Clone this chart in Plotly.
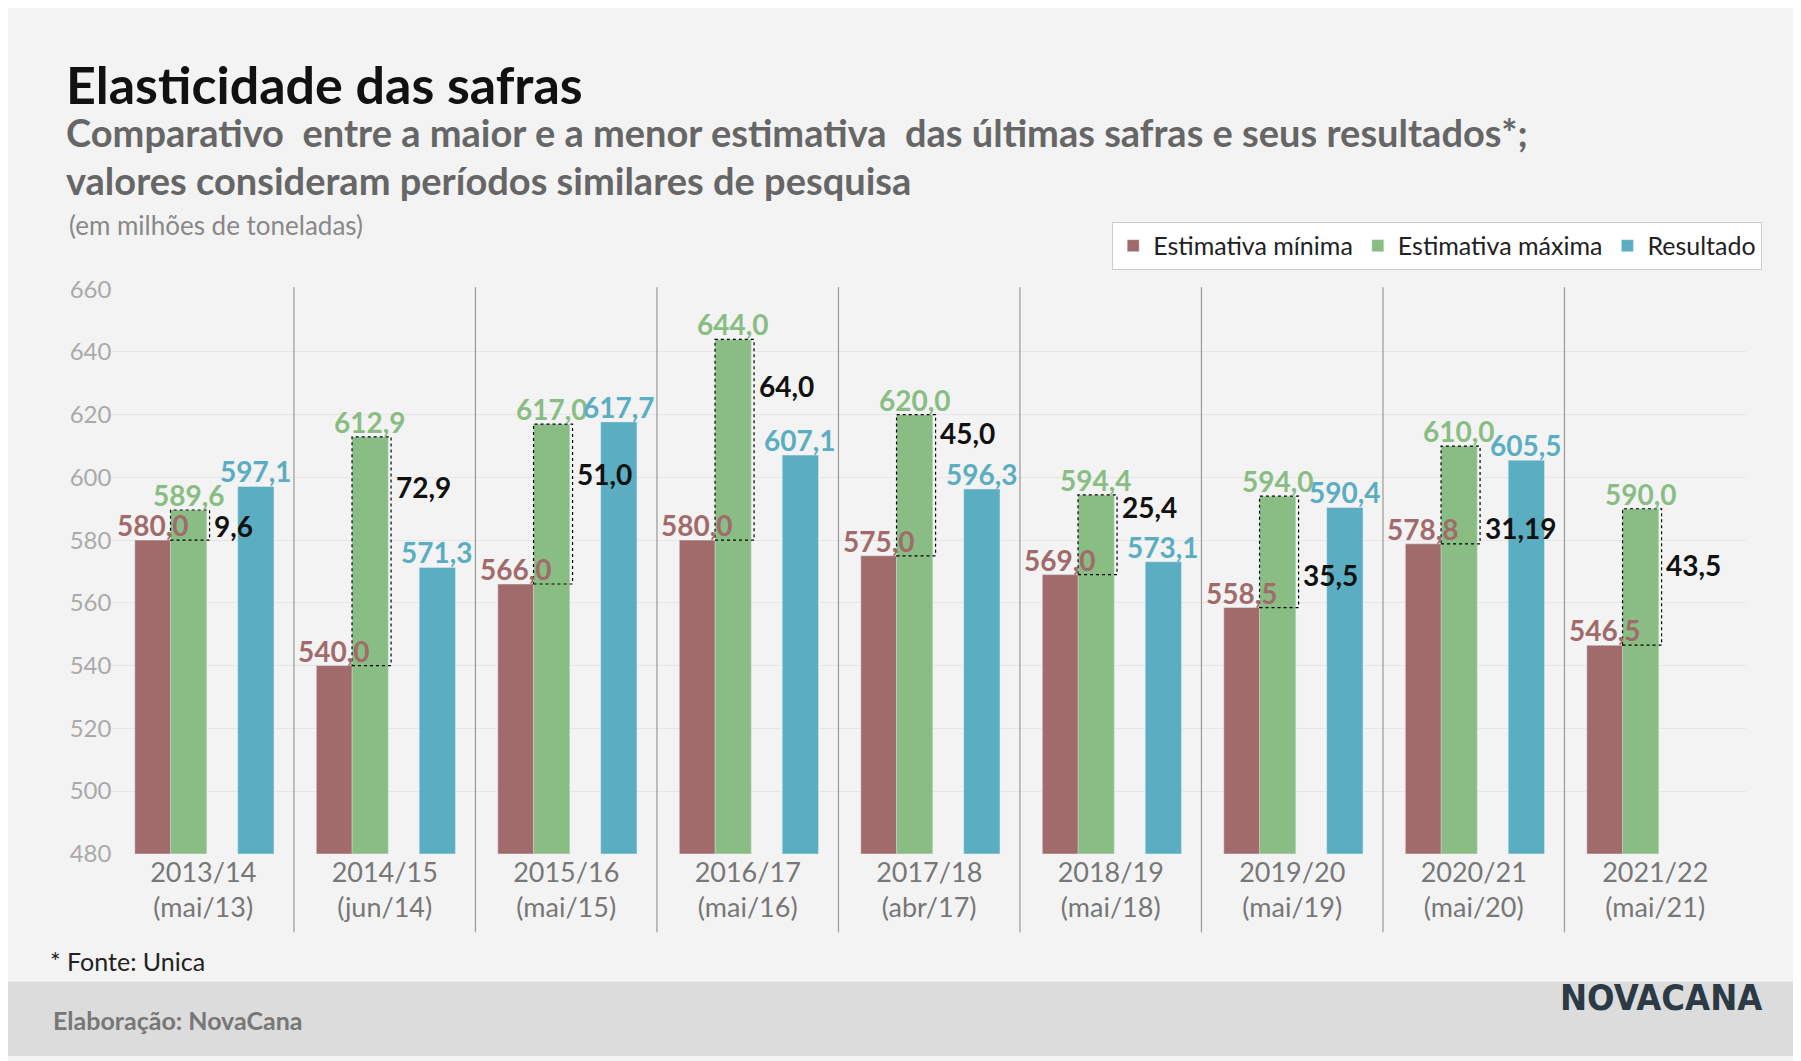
import plotly.graph_objects as go

cats = ["2013/14<br>(mai/13)","2014/15<br>(jun/14)","2015/16<br>(mai/15)","2016/17<br>(mai/16)","2017/18<br>(abr/17)","2018/19<br>(mai/18)","2019/20<br>(mai/19)","2020/21<br>(mai/20)","2021/22<br>(mai/21)"]
est_min = [580.0,540.0,566.0,580.0,575.0,569.0,558.5,578.8,546.5]
est_max = [589.6,612.9,617.0,644.0,620.0,594.4,594.0,610.0,590.0]
result = [597.1,571.3,617.7,607.1,596.3,573.1,590.4,605.5,None]
diff_lbl = ["9,6","72,9","51,0","64,0","45,0","25,4","35,5","31,19","43,5"]
diff_y = [584.5,597.0,601.0,629.0,614.0,590.5,569.0,584.0,572.0]

RED, GREEN, BLUE = "#a06b6a", "#89bd84", "#5badc1"
fmt = lambda v: f"{v:.1f}".replace(".", ",")
n = len(cats)
xs = list(range(n))
W = 0.2
OFF = {"min": -0.277, "max": -0.08, "res": 0.29}
fig = go.Figure()
fig.add_bar(x=[i+OFF["min"] for i in xs], y=est_min, width=W, marker_color=RED, name="Estimativa mínima")
fig.add_bar(x=[i+OFF["max"] for i in xs], y=est_max, width=W, marker_color=GREEN, name="Estimativa máxima")
bx = [i+OFF["res"] for i, r in zip(xs, result) if r is not None]
by = [r for r in result if r is not None]
fig.add_bar(x=bx, y=by, width=W, marker_color=BLUE, name="Resultado")

def lbl(x, y, t, color):
    fig.add_annotation(x=x, y=y, text=f"<b>{t}</b>", showarrow=False, yanchor="bottom", yshift=-4,
                       font=dict(family="Lato", size=28, color=color))

for i in xs:
    lbl(i+OFF["min"], est_min[i], fmt(est_min[i]), RED)
    lbl(i+OFF["max"], est_max[i], fmt(est_max[i]), GREEN)
    if result[i] is not None:
        lbl(i+OFF["res"], result[i], fmt(result[i]), BLUE)
    fig.add_shape(type="rect", x0=i-0.18, x1=i+0.035, y0=est_min[i], y1=est_max[i],
                  line=dict(color="black", width=1.2, dash="dot"), layer="above")
    fig.add_annotation(x=i+0.05, y=diff_y[i], text=f"<b>{diff_lbl[i]}</b>", showarrow=False,
                       xanchor="left", font=dict(family="Lato", size=28, color="#111"))
for i in range(1, n):
    fig.add_shape(type="line", xref="x", yref="paper", x0=i-0.5, x1=i-0.5, y0=0.12, y1=0.745,
                  line=dict(color="#999", width=1.2))

fig.add_shape(type="rect", xref="paper", yref="paper", x0=0, x1=1, y0=0, y1=0.072,
              fillcolor="#dcdcdc", line_width=0, layer="below")

def ann(x, y, t, size, color, bold=False):
    fig.add_annotation(xref="paper", yref="paper", x=x, y=y, text=f"<b>{t}</b>" if bold else t,
                       showarrow=False, xanchor="left", yanchor="middle", font=dict(family="Lato", size=size, color=color))
ann(0.031, 0.942, "Elasticidade das safras", 52, "#111", True)
ann(0.031, 0.895, "Comparativo  entre a maior e a menor estimativa  das últimas safras e seus resultados*;", 38, "#666", True)
ann(0.031, 0.849, "valores consideram períodos similares de pesquisa", 38, "#666", True)
ann(0.033, 0.805, "(em milhões de toneladas)", 26, "#888")
ann(0.022, 0.092, "* Fonte: Unica", 25, "#222")
ann(0.024, 0.035, "Elaboração: NovaCana", 25, "#777", True)
fig.add_annotation(xref="paper", yref="paper", x=0.975, y=0.035, text="<b>NOVACANA</b>", showarrow=False,
                   xanchor="right", font=dict(family="DejaVu Sans Condensed", size=36, color="#2b3a45"))

fig.update_layout(
    width=1801, height=1061, margin=dict(l=0, r=0, t=0, b=0),
    paper_bgcolor="#f3f3f3", plot_bgcolor="#f3f3f3", barmode="overlay",
    showlegend=True,
    legend=dict(orientation="h", x=0.974, y=0.785, xanchor="right", yanchor="middle",
                bgcolor="white", bordercolor="#ccc", borderwidth=1,
                font=dict(family="Lato", size=25, color="#222"), traceorder="normal"),
    xaxis=dict(domain=[0.058, 0.965], range=[-0.5, n-0.5], tickvals=xs, ticktext=cats, showgrid=False,
               tickfont=dict(family="Lato", size=27, color="#777"), ticks="", zeroline=False),
    yaxis=dict(domain=[0.196, 0.743], range=[480, 660], dtick=20, gridcolor="#e6e6e6",
               tickfont=dict(family="Lato", size=24, color="#aaa"), zeroline=False),
)
fig.write_html("out.html")
